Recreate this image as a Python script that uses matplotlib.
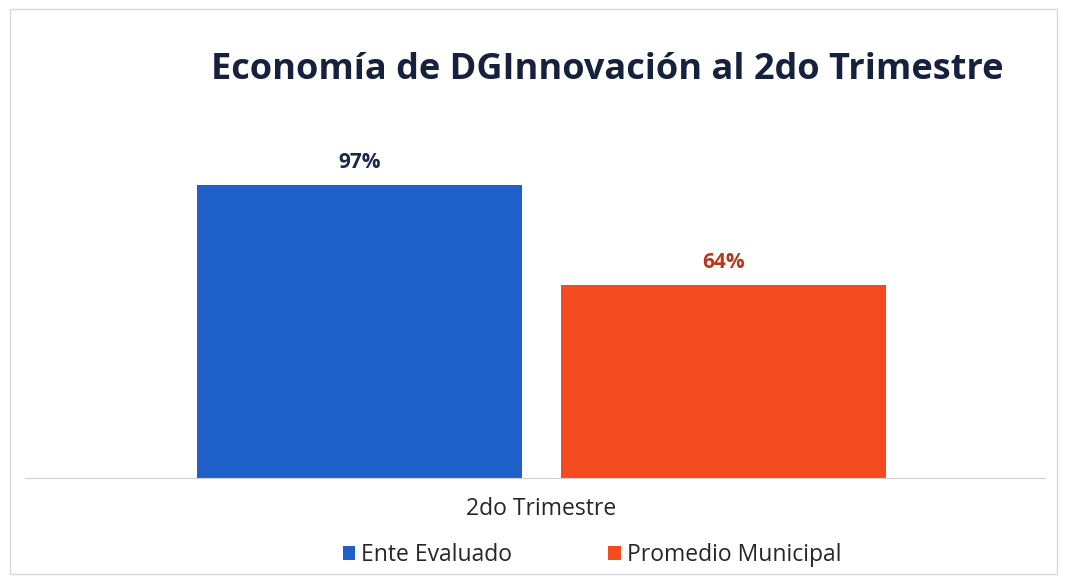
import matplotlib
matplotlib.use("Agg")
import matplotlib.pyplot as plt
from matplotlib.patches import Rectangle

# data
categories = ["2do Trimestre"]
series_names = ["Ente Evaluado", "Promedio Municipal"]
series_values = [97, 64]
series_colors = ["#1f5fc9", "#f44a1f"]
label_colors = ["#1b2a4a", "#b3391c"]
title = "Economía de DGInnovación al 2do Trimestre"

W, H = 1067, 578
fig = plt.figure(figsize=(W / 100, H / 100), dpi=100)
plt.rcParams["font.family"] = ["Open Sans", "DejaVu Sans"]

# light frame round the chart area
fig.patches.append(Rectangle((10 / W, 4 / H), 1047 / W, 565 / H, transform=fig.transFigure,
                             fill=False, edgecolor="#d9d9d9", linewidth=1))

# axes placed in pixels
ax_l, ax_r, ax_b, ax_t = 25, 1045, 478, 176
ax = fig.add_axes([ax_l / W, 1 - ax_b / H, (ax_r - ax_l) / W, (ax_b - ax_t) / H])

center = 541.5
scale = 812.5
ax.set_xlim((ax_l - center) / scale, (ax_r - center) / scale)
ax.set_ylim(0, 100)

width = 0.4
offsets = [-0.2235, 0.2235]
for i, (name, v) in enumerate(zip(series_names, series_values)):
    ax.bar(offsets[i], v, width=width, color=series_colors[i], label=name)
    ax.text(offsets[i], v + 7.5, f"{v}%", ha="center", va="center",
            fontsize=15, fontweight="bold", color=label_colors[i])

for s in ["top", "right", "left"]:
    ax.spines[s].set_visible(False)
ax.spines["bottom"].set_color("#d0d0d0")
ax.set_yticks([])
ax.set_xticks([0])
ax.set_xticklabels(categories, fontsize=16.5, color="#262626")
ax.tick_params(axis="x", length=0, pad=14)

fig.text(607 / W, 1 - 70 / H, title, ha="center", va="center",
         fontsize=26, fontweight="bold", color="#16213d")

leg = fig.legend(loc="center", bbox_to_anchor=(592 / W, 1 - 555 / H), ncol=2,
                 frameon=False, fontsize=16.5, handlelength=0.55, handleheight=0.55,
                 handletextpad=0.25, columnspacing=4.2)
for t in leg.get_texts():
    t.set_color("#262626")

fig.savefig("out.png", dpi=100)
